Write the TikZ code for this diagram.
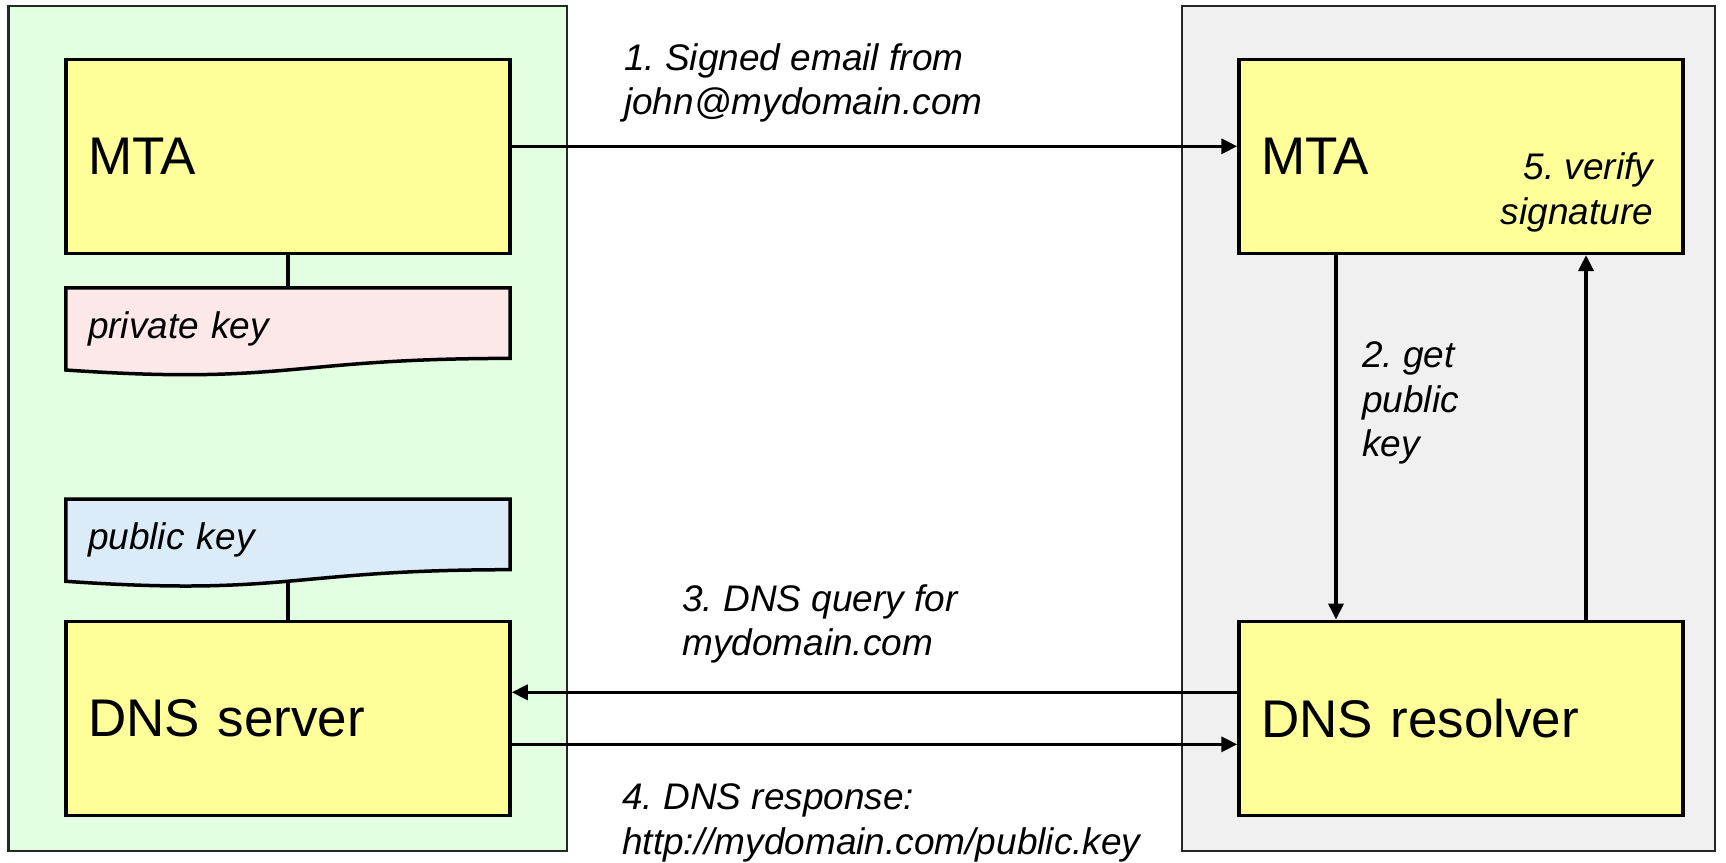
\documentclass[tikz,border=0pt]{standalone}
\usepackage{fontspec}
\setmainfont{Liberation Sans}
\usetikzlibrary{arrows.meta,calc,backgrounds}
\definecolor{panelgreen}{HTML}{E2FFE2}
\definecolor{panelgray}{HTML}{F0F0F0}
\definecolor{boxyellow}{HTML}{FFFF99}
\definecolor{privpink}{HTML}{FDE8E9}
\definecolor{pubblue}{HTML}{DBEBF8}
\frenchspacing
\begin{document}
\begin{tikzpicture}[x=1pt,y=-1pt,
  panel/.style={draw=black!85, line width=2.2pt},
  box/.style={draw=black, line width=3.5pt, fill=boxyellow, minimum width=444pt, minimum height=194pt,
    text width=400pt, inner xsep=22pt, inner ysep=0pt, align=left, font=\fontsize{53}{63}\selectfont},
  docnode/.style={minimum width=444pt, minimum height=82pt, text width=400pt, inner xsep=22pt,
    inner ysep=0pt, align=left, font=\itshape\fontsize{37}{44.5}\selectfont},
  docline/.style={draw=black, line width=3.5pt, line join=miter},
  lbl/.style={font=\itshape\fontsize{37}{44.5}\selectfont, inner sep=0pt},
  link/.style={draw=black, line width=3.5pt},
  flow/.style={link, -{Triangle[length=16pt,width=15pt]}}
]
\useasboundingbox (0,0) rectangle (1726,862);

% boxes
\node[box] (mtaL) at (288,156.3) {MTA};
\node[docnode] (pk) at (288,329) {private key};
\node[docnode] (pub) at (288,540.3) {public key};
\node[box] (dns) at (288,718.3) {DNS server};
\node[box] (mtaR) at (1461,156.3) {MTA};
\node[box] (res) at (1461,718.3) {DNS resolver};

\begin{scope}[on background layer]
  \draw[panel, fill=panelgreen] (8.5,6) rectangle (567,851);
  \draw[panel, fill=panelgray] (1182.3,6) rectangle (1715,851);
  \draw[docline, fill=privpink] (pk.north west) -- (pk.north east) -- ($(pk.north east)+(0,70.6)$)
    .. controls ($(pk.north)+(0,70.6)$) and ($(pk.north)+(0,97.5)$) .. ($(pk.north west)+(0,82.2)$) -- cycle;
  \draw[docline, fill=pubblue] (pub.north west) -- (pub.north east) -- ($(pub.north east)+(0,70.6)$)
    .. controls ($(pub.north)+(0,70.6)$) and ($(pub.north)+(0,97.5)$) .. ($(pub.north west)+(0,82.2)$) -- cycle;
\end{scope}

% connectors
\draw[link] (mtaL.south) -- (pk.north);
\draw[link] (pub.south) -- (dns.north);
\draw[flow] ([yshift=10pt]mtaL.east) -- ([yshift=10pt]mtaR.west);
\draw[flow] ([xshift=-125pt]mtaR.south) -- ([xshift=-125pt]res.north);
\draw[flow] ([xshift=125pt]res.north) -- ([xshift=125pt]mtaR.south);
\draw[flow] ([yshift=26pt]res.west) -- ([yshift=26pt]dns.east);
\draw[flow] ([yshift=-26pt]dns.east) -- ([yshift=-26pt]res.west);

% labels
\node[lbl, align=left, anchor=west] (l1) at (624,83) {1. Signed email from\\john@mydomain.com};
\node[lbl, align=left, anchor=west] (l2) at (1362,403) {2. get\\public\\key};
\node[lbl, align=left, anchor=west] (l3) at (682,623.7) {3. DNS query for\\mydomain.com};
\node[lbl, align=left, anchor=west] (l4) at (622,823) {4. DNS response:\\http://mydomain.com/public.key};
\node[lbl, align=right, anchor=east] (l5) at (1653.3,192.5) {5. verify\\signature};
\end{tikzpicture}
\end{document}
